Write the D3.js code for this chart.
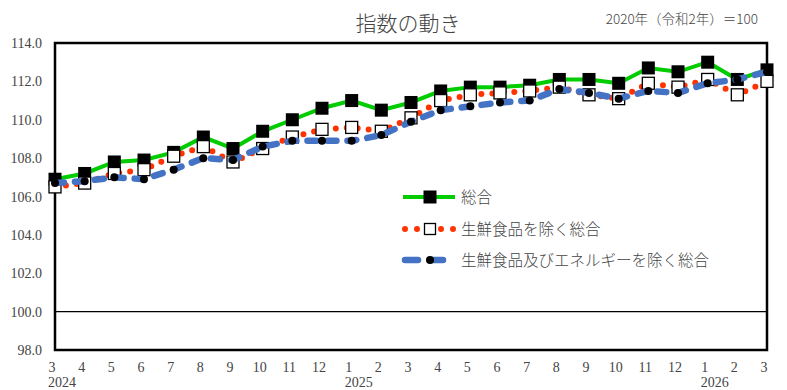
<!DOCTYPE html>
<html>
<head>
<meta charset="utf-8">
<script src="https://cdn.jsdelivr.net/npm/d3@7"></script>
<style>
  body { margin: 0; background: #fff; }
  svg text { fill: #444; }
</style>
</head>
<body>
<div id="chart"></div>
<script>
// months Mar 2024 .. Mar 2026
var months = ["3","4","5","6","7","8","9","10","11","12","1","2","3","4","5","6","7","8","9","10","11","12","1","2","3"];
var years = [{idx: 0, label: "2024"}, {idx: 10, label: "2025"}, {idx: 22, label: "2026"}];
var sogo   = [106.9,107.2,107.8,107.9,108.3,109.1,108.5,109.4,110.0,110.6,111.0,110.5,110.9,111.5,111.7,111.7,111.8,112.1,112.1,111.9,112.7,112.5,113.0,112.1,112.6];
var core   = [106.5,106.7,107.2,107.4,108.1,108.6,107.8,108.5,109.1,109.5,109.6,109.4,110.1,111.0,111.3,111.4,111.5,111.7,111.3,111.1,111.9,111.7,112.1,111.3,112.0];
var core2  = [106.7,106.8,107.0,106.9,107.4,108.0,107.9,108.6,108.9,108.9,108.9,109.2,109.9,110.5,110.7,110.9,111.0,111.6,111.4,111.1,111.5,111.4,111.9,112.1,112.5];
var yTicks = [98,100,102,104,106,108,110,112,114];
var seriesNames = ["総合", "生鮮食品を除く総合", "生鮮食品及びエネルギーを除く総合"];

var W = 787, H = 390;
var margin = {top: 43, right: 20, bottom: 40, left: 55};

var svg = d3.select("#chart").append("svg")
  .attr("width", W).attr("height", H);

var x = d3.scaleLinear().domain([0, months.length - 1]).range([margin.left, 767]);
var y = d3.scaleLinear().domain([98, 114]).range([350, margin.top]);

// title
svg.append("text").attr("x", 408).attr("y", 31)
  .attr("text-anchor", "middle")
  .style("font-family", "'Noto Sans CJK JP'").style("font-size", "21px")
  .style("font-weight", 300)
  .text("指数の動き");
svg.append("text").attr("x", 758).attr("y", 24)
  .attr("text-anchor", "end")
  .style("font-family", "'Noto Sans CJK JP'").style("font-size", "13.5px")
  .style("font-weight", 300)
  .text("2020年（令和2年）＝100");

// y tick labels
svg.selectAll("text.ytick").data(yTicks).enter().append("text")
  .attr("class", "ytick")
  .attr("x", 42).attr("y", d => y(d) + 5)
  .attr("text-anchor", "end")
  .style("font-family", "'Liberation Serif'").style("font-size", "14px")
  .text(d => d.toFixed(1));

// x labels
svg.selectAll("text.xtick").data(months).enter().append("text")
  .attr("class", "xtick")
  .attr("x", (d, i) => x(i) - 3).attr("y", 372)
  .attr("text-anchor", "middle")
  .style("font-family", "'Liberation Serif'").style("font-size", "14px")
  .text(d => d);
svg.selectAll("text.year").data(years).enter().append("text")
  .attr("class", "year")
  .attr("x", d => x(d.idx) - 7).attr("y", 387)
  .style("font-family", "'Liberation Serif'").style("font-size", "14px")
  .text(d => d.label);

// 100 line
svg.append("line")
  .attr("x1", margin.left).attr("x2", 767)
  .attr("y1", y(100)).attr("y2", y(100))
  .attr("stroke", "#000").attr("stroke-width", 1.3);

// frame
svg.append("rect")
  .attr("x", margin.left).attr("y", y(114))
  .attr("width", 767 - margin.left).attr("height", y(98) - y(114))
  .attr("fill", "none").attr("stroke", "#000").attr("stroke-width", 2.5);

var line = d3.line().x((d, i) => x(i)).y(d => y(d));

// 総合
svg.append("path").datum(sogo).attr("d", line)
  .attr("fill", "none").attr("stroke", "#00cc00").attr("stroke-width", 4);
svg.selectAll("rect.m1").data(sogo).enter().append("rect")
  .attr("class", "m1")
  .attr("x", (d, i) => x(i) - 6.5).attr("y", d => y(d) - 6.5)
  .attr("width", 13).attr("height", 13).attr("fill", "#000");

// 生鮮食品を除く総合
svg.append("path").datum(core).attr("d", line)
  .attr("fill", "none").attr("stroke", "#ff3300").attr("stroke-width", 6)
  .attr("stroke-linecap", "round").attr("stroke-dasharray", "0,11");
svg.selectAll("rect.m2").data(core).enter().append("rect")
  .attr("class", "m2")
  .attr("x", (d, i) => x(i) - 6).attr("y", d => y(d) - 6)
  .attr("width", 12).attr("height", 12)
  .attr("fill", "#fff").attr("stroke", "#000").attr("stroke-width", 1.3);

// 生鮮食品及びエネルギーを除く総合
svg.append("path").datum(core2).attr("d", line)
  .attr("fill", "none").attr("stroke", "#4472c4").attr("stroke-width", 6.5)
  .attr("stroke-linecap", "round").attr("stroke-dasharray", "9,11");
svg.selectAll("circle.m3").data(core2).enter().append("circle")
  .attr("class", "m3")
  .attr("cx", (d, i) => x(i)).attr("cy", d => y(d))
  .attr("r", 4).attr("fill", "#000");

// legend
var legY = [197, 229, 260];
var lg = svg.append("g");
// entry 1
lg.append("line").attr("x1", 403).attr("x2", 455).attr("y1", legY[0]).attr("y2", legY[0])
  .attr("stroke", "#00cc00").attr("stroke-width", 4);
lg.append("rect").attr("x", 430 - 6.5).attr("y", legY[0] - 6.5)
  .attr("width", 13).attr("height", 13).attr("fill", "#000");
// entry 2
lg.append("line").attr("x1", 405).attr("x2", 455).attr("y1", legY[1]).attr("y2", legY[1])
  .attr("stroke", "#ff3300").attr("stroke-width", 6)
  .attr("stroke-linecap", "round").attr("stroke-dasharray", "0,12");
lg.append("rect").attr("x", 430 - 5.5).attr("y", legY[1] - 5.5)
  .attr("width", 11).attr("height", 11)
  .attr("fill", "#fff").attr("stroke", "#000").attr("stroke-width", 1.3);
// entry 3
lg.append("line").attr("x1", 405).attr("x2", 455).attr("y1", legY[2]).attr("y2", legY[2])
  .attr("stroke", "#4472c4").attr("stroke-width", 6.5)
  .attr("stroke-linecap", "round").attr("stroke-dasharray", "13,12");
lg.append("circle").attr("cx", 430).attr("cy", legY[2]).attr("r", 4).attr("fill", "#000");

lg.selectAll("text").data(seriesNames).enter().append("text")
  .attr("x", 461).attr("y", (d, i) => legY[i] + 6)
  .style("font-family", "'Noto Sans CJK JP'").style("font-size", "15.5px")
  .style("font-weight", 300)
  .text(d => d);
</script>
</body>
</html>
